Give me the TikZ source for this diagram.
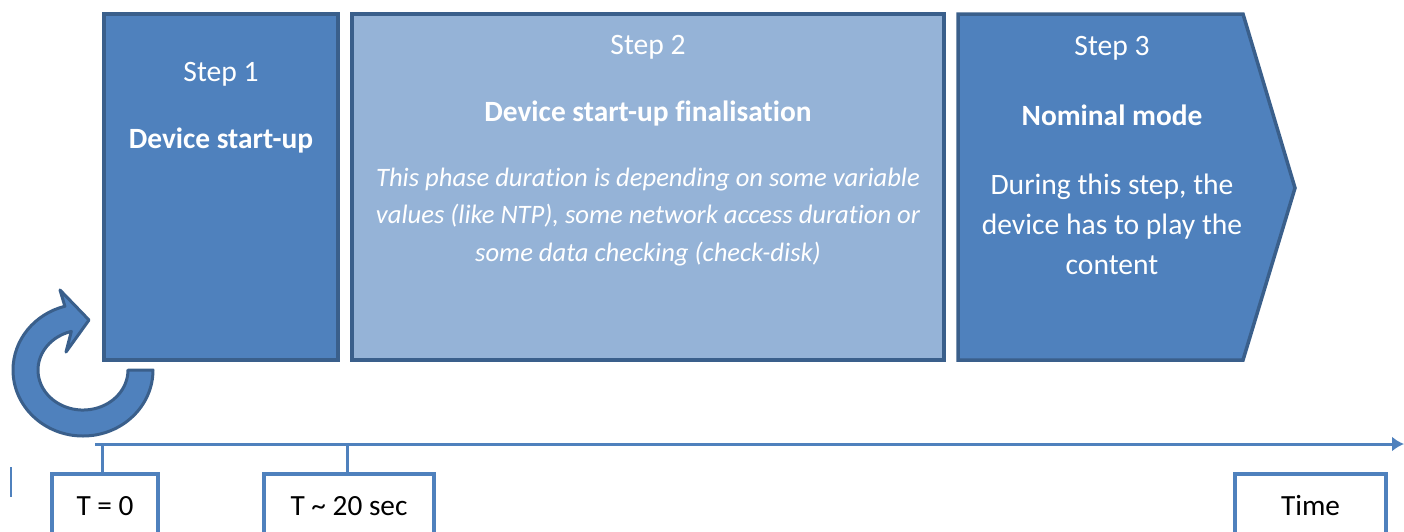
\documentclass[tikz,border=0pt]{standalone}
\usepackage{fontspec}
\setmainfont{Carlito}[RawFeature={-liga;-clig;-dlig;-calt}]
\usetikzlibrary{arrows.meta,positioning}
\definecolor{stepdark}{HTML}{4F81BD}
\definecolor{steplight}{HTML}{95B3D7}
\definecolor{stepline}{HTML}{3A5F8B}
\definecolor{axisblue}{HTML}{4F81BD}
\tikzset{
  stepbox/.style={draw=stepline, line width=3.5pt, inner sep=0pt, outer sep=0pt},
  steptitle/.style={text=white, font=\fontsize{29.6}{34}\selectfont},
  stepname/.style={text=white, font=\fontsize{29.4}{34}\selectfont\bfseries},
  stepnote/.style={text=white, align=center, font=\fontsize{29.6}{40}\selectfont},
  timebox/.style={draw=axisblue, line width=4pt, fill=white, inner sep=0pt, outer sep=0pt, minimum height=100pt},
  timetext/.style={font=\fontsize{29.3}{34}\selectfont},
  timeline/.style={draw=axisblue, line width=3pt},
}
\begin{document}
\begin{tikzpicture}[x=1pt, y=-1pt]
\useasboundingbox (0,0) rectangle (1404,531);
\clip (0,0) rectangle (1404,531);

% steps
\node (step1) at (221,187)[stepbox, fill=stepdark, minimum width=234pt, minimum height=346pt]{};
\node (step2) at (648,187)[stepbox, fill=steplight, minimum width=592pt, minimum height=346pt]{};
\draw[stepbox, fill=stepdark] (958,14) -- (1243,14) -- (1295,188) -- (1243,360) -- (958,360) -- cycle;

\node (title1) at (221,74)[steptitle]{Step 1};
\node (name1) at (221,140)[stepname]{Device start-up};

\node (title2) at (648,47)[steptitle]{Step 2};
\node (name2) at (648,113)[stepname]{Device start-up finalisation};
\node (note2) at (648,217)[text=white, align=center, font=\fontsize{26.6}{37.5}\selectfont\itshape]
  {This phase duration is depending on some variable\\
   values (like NTP), some network access duration or\\
   some data checking (check-disk)};

\node (title3) at (1112,48)[steptitle]{Step 3};
\node (name3) at (1112,115)[stepname]{Nominal mode};
\node (note3) at (1112,224)[stepnote]{During this step, the\\device has to play the\\content};

% restart arrow
\draw[fill=stepdark, draw=stepline, line width=3pt, line join=round]
  (153,370) arc[start angle=0, end angle=255, x radius=70, y radius=66]
  -- (60,290) -- (89,320) -- (66,352)
  -- (71.35,331.4) arc[start angle=255, end angle=0, x radius=45, y radius=40] -- cycle;

% time axis
\coordinate (axstart) at (95,444);
\coordinate (axend) at (1404,444);
\draw[timeline, -{Latex[length=12pt, width=15pt]}] (axstart) -- (axend);

\node (t0) at (105,524)[timebox, minimum width=106pt]{};
\node (t20) at (349,524)[timebox, minimum width=170pt]{};
\node (tend) at (1310.5,524)[timebox, minimum width=151pt]{};
\node at (105,506)[timetext]{T = 0};
\node at (349,506)[timetext]{T \char`~{} 20 sec};
\node at (1310.5,506)[timetext]{Time};

\coordinate (tick0) at (102,444);
\coordinate (tick20) at (347,444);
\draw[timeline] (tick0) -- (tick0 |- t0.north);
\draw[timeline] (tick20) -- (tick20 |- t20.north);

\coordinate (marktop) at (11,467);
\coordinate (markbot) at (11,497);
\draw[draw=axisblue, line width=2.5pt] (marktop) -- (markbot);
\end{tikzpicture}
\end{document}
